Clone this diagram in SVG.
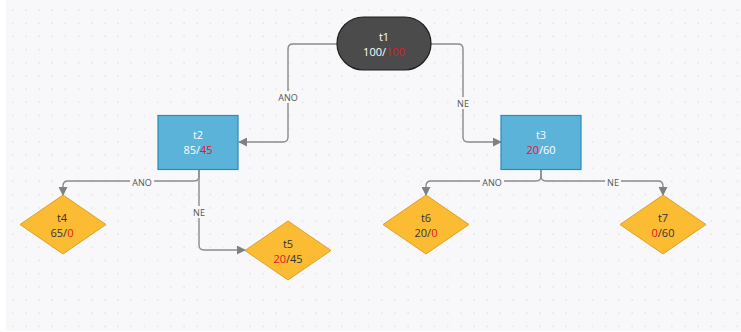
<svg xmlns="http://www.w3.org/2000/svg" width="741" height="332" viewBox="0 0 741 332">
<defs>
<pattern id="dots" x="6" y="3.4" width="13.18" height="13.18" patternUnits="userSpaceOnUse">
<rect x="6" y="6" width="1.4" height="1.4" fill="#dedee3"/>
</pattern>
<marker id="arr" viewBox="0 0 10 10" refX="9" refY="5" markerWidth="9" markerHeight="9" markerUnits="userSpaceOnUse" orient="auto">
<path d="M0,0 L10,5 L0,10 Z" fill="#808080"/>
</marker>
<style>
.c{fill:none;stroke:#8a8a8a;stroke-width:1.4}
.lbl{font-family:"Open Sans","Noto Sans",sans-serif;font-size:9px;fill:#555;text-anchor:middle}
.lb{fill:#f8f8fa}
.t{font-family:"Open Sans","Noto Sans",sans-serif;font-size:11px;text-anchor:middle}
.w{fill:#ffffff}
.d{fill:#333333}
.r{fill:#e8141e}
.dia{fill:#fbbc34;stroke:#dca227;stroke-width:1}
.box{fill:#5bb3d9;stroke:#2b8bbd;stroke-width:1.2}
</style>
</defs>
<rect x="6" y="0" width="735" height="331" fill="#f8f8fa"/>
<rect x="6" y="0" width="735" height="331" fill="url(#dots)"/>
<g id="connectors">
<path class="c" d="M337,44 H293 Q288,44 288,49 V137 Q288,142 283,142 H239" marker-end="url(#arr)"/>
<path class="c" d="M431,44 H458 Q463,44 463,49 V137 Q463,142 468,142 H501" marker-end="url(#arr)"/>
<path class="c" d="M199,169 V176 Q199,181 194,181 H68 Q63,181 63,186 V195" marker-end="url(#arr)"/>
<path class="c" d="M199,169 V245 Q199,250 204,250 H245" marker-end="url(#arr)"/>
<path class="c" d="M541,169 V176 Q541,181 536,181 H431 Q426,181 426,186 V195" marker-end="url(#arr)"/>
<path class="c" d="M541,169 V176 Q541,181 546,181 H658 Q663,181 663,186 V195" marker-end="url(#arr)"/>
<rect class="lb" x="276" y="91" width="24" height="12"/>
<text class="lbl" x="288" y="100.5">ANO</text>
<rect class="lb" x="455" y="97" width="16" height="12"/>
<text class="lbl" x="463" y="106.5">NE</text>
<rect class="lb" x="130" y="176" width="24" height="12"/>
<text class="lbl" x="142" y="185.5">ANO</text>
<rect class="lb" x="191" y="206" width="16" height="12"/>
<text class="lbl" x="199" y="215.5">NE</text>
<rect class="lb" x="480" y="176" width="24" height="12"/>
<text class="lbl" x="492" y="185.5">ANO</text>
<rect class="lb" x="605" y="176" width="16" height="12"/>
<text class="lbl" x="613" y="185.5">NE</text>
</g>
<g id="t1">
<rect x="337" y="17" width="94" height="53" rx="26.5" ry="26.5" fill="#4b4b4b" stroke="#1e1e1e" stroke-width="1.2"/>
<text class="t w" x="384" y="40.5">t1</text>
<text class="t w" x="384" y="55.5">100/<tspan class="r">100</tspan></text>
</g>
<g id="t2">
<rect class="box" x="158" y="115.5" width="80" height="54"/>
<text class="t w" x="198" y="139">t2</text>
<text class="t w" x="198" y="154">85/<tspan class="r">45</tspan></text>
</g>
<g id="t3">
<rect class="box" x="501" y="115.5" width="80" height="54"/>
<text class="t w" x="541" y="139">t3</text>
<text class="t w" x="541" y="154"><tspan class="r">20</tspan>/60</text>
</g>
<g id="t4">
<polygon class="dia" points="63,195 106,224.5 63,254 20,224.5"/>
<text class="t d" x="62" y="222">t4</text>
<text class="t d" x="62" y="237">65/<tspan class="r">0</tspan></text>
</g>
<g id="t5">
<polygon class="dia" points="288,221 331,250.5 288,280 245,250.5"/>
<text class="t d" x="288" y="248">t5</text>
<text class="t d" x="288" y="263"><tspan class="r">20</tspan>/45</text>
</g>
<g id="t6">
<polygon class="dia" points="426,195 469,224.5 426,254 383,224.5"/>
<text class="t d" x="426" y="222">t6</text>
<text class="t d" x="426" y="237">20/<tspan class="r">0</tspan></text>
</g>
<g id="t7">
<polygon class="dia" points="663,195 706,224.5 663,254 620,224.5"/>
<text class="t d" x="663" y="222">t7</text>
<text class="t d" x="663" y="237"><tspan class="r">0</tspan>/60</text>
</g>
</svg>
